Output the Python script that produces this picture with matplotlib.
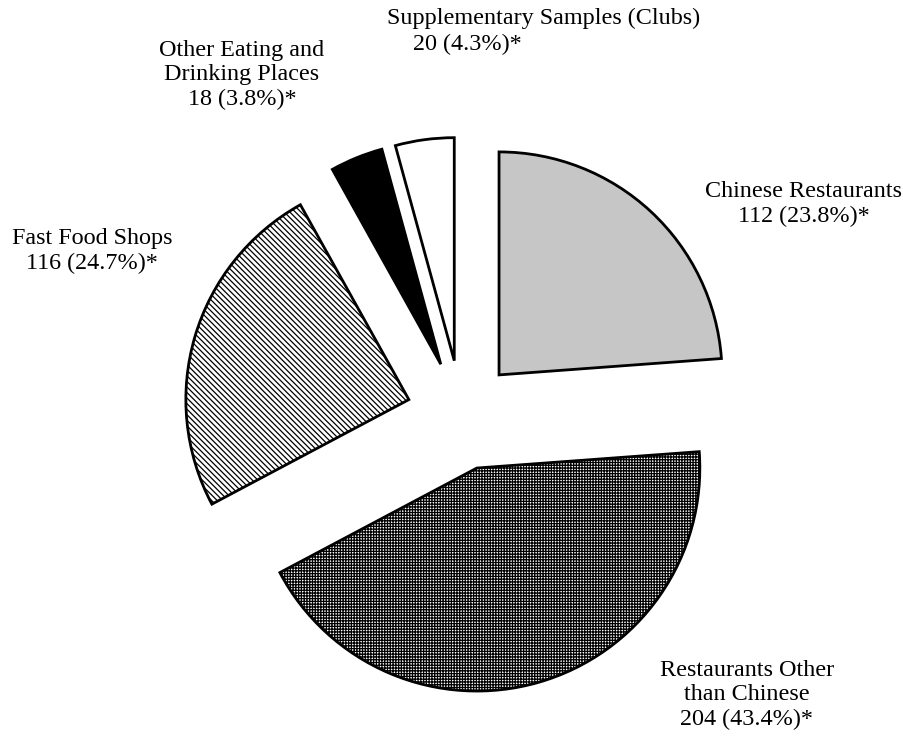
import matplotlib
matplotlib.use('Agg')
import matplotlib.pyplot as plt

# survey samples by type of premises
categories = ['Chinese Restaurants', 'Restaurants Other\nthan Chinese', 'Fast Food Shops',
              'Other Eating and\nDrinking Places', 'Supplementary Samples (Clubs)']
counts = [112, 204, 116, 18, 20]
percents = [23.8, 43.4, 24.7, 3.8, 4.3]

plt.rcParams['font.family'] = ['Liberation Serif', 'DejaVu Serif']
plt.rcParams['hatch.linewidth'] = 0.9

W, H = 904, 740
fig = plt.figure(figsize=(W / 100, H / 100), dpi=100)
ax = fig.add_axes([0, 0, 1, 1])

wedges, _ = ax.pie(counts, startangle=90, counterclock=False,
                   center=(461.6, H - 415.2), radius=223,
                   explode=[55] * len(counts),
                   colors=['#c6c6c6', 'white', 'white', 'black', 'white'],
                   wedgeprops=dict(edgecolor='black', linewidth=2))
wedges[1].set_hatch('++++++')
wedges[2].set_hatch('\\\\\\\\\\\\')

ax.set_xlim(0, W)
ax.set_ylim(0, H)
ax.set_aspect('equal')
ax.axis('off')

fs = 17.4
def lab(i, x, y, ha='center'):
    ax.text(x, H - y, f'{categories[i]}\n{counts[i]} ({percents[i]}%)*', ha=ha, va='center',
            fontsize=fs, linespacing=1.2)

lab(0, 804, 204)
lab(1, 747, 695)
lab(2, 92, 251)
lab(3, 242, 75)
# supplementary label: second line indented
ax.text(387, H - 18, categories[4], ha='left', va='center', fontsize=fs)
ax.text(413, H - 44, f'{counts[4]} ({percents[4]}%)*', ha='left', va='center', fontsize=fs)

fig.savefig('out.png', dpi=100)
